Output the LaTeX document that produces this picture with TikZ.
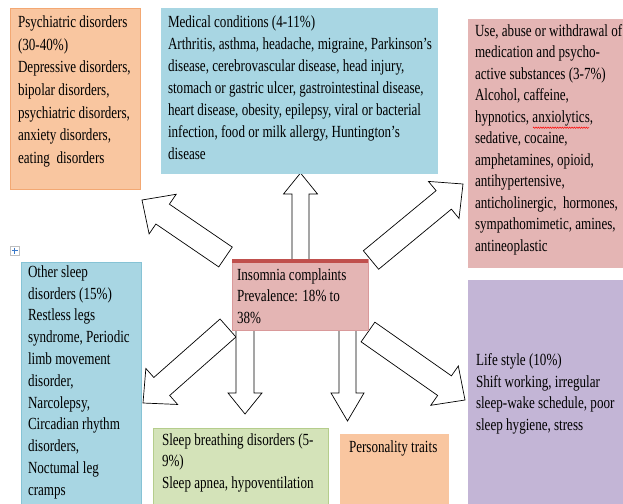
\documentclass[tikz,border=0pt]{standalone}
\usepackage{fontspec}
\setmainfont{Liberation Serif}[FakeStretch=0.77]
\usetikzlibrary{calc,decorations.pathmorphing}

\definecolor{psyfill}{HTML}{F9C6A0}
\definecolor{psyline}{HTML}{F3A873}
\definecolor{bluefill}{HTML}{A8D6E3}
\definecolor{blueline}{HTML}{86C3D5}
\definecolor{pinkfill}{HTML}{E4B5B4}
\definecolor{pinkline}{HTML}{D9999A}
\definecolor{stripred}{HTML}{C0504D}
\definecolor{purplefill}{HTML}{C3B5D6}
\definecolor{greenfill}{HTML}{D4E3B9}
\definecolor{greenline}{HTML}{B5CD8C}
\definecolor{handleblue}{HTML}{3A78C8}

% block arrow: tail, tip, shaft half width, head half width, head length
\newcommand\fatarrow[5]{%
  \coordinate (fa-base) at ($(#2)!#5!(#1)$);
  \draw[blockarrow]
    ($(#1)!#3!90:(#2)$) -- ($(fa-base)!#3!90:(#2)$) -- ($(fa-base)!#4!90:(#2)$)
    -- (#2) --
    ($(fa-base)!#4!-90:(#2)$) -- ($(fa-base)!#3!-90:(#2)$) -- ($(#1)!#3!-90:(#2)$) -- cycle;
}

\tikzset{
  box/.style={rectangle, inner sep=0pt, outer sep=0pt, anchor=north west, line width=0.6pt},
  boxtext/.style={inner sep=0pt, outer sep=0pt, anchor=north west, align=left,
                  font=\fontsize{17}{#1}\selectfont},
  boxtext/.default=21.7,
  blockarrow/.style={draw=black, fill=white, line width=0.7pt, line join=miter},
}

\begin{document}
\begin{tikzpicture}[x=1pt,y=-1pt]
\useasboundingbox (0,0) rectangle (623,503);
\fill[white] (0,0) rectangle (623,503);

% arrow ends around the central box
\coordinate (upT)  at (300.5,262);  \coordinate (upH)  at (300.5,173);
\coordinate (ulT)  at (225.5,257);  \coordinate (ulH)  at (142,200);
\coordinate (urT)  at (371,260);    \coordinate (urH)  at (463,184);
\coordinate (dlT)  at (228,328);    \coordinate (dlH)  at (143,403);
\coordinate (d1T)  at (245,327);    \coordinate (d1H)  at (245,414);
\coordinate (d2T)  at (347.5,327);  \coordinate (d2H)  at (347.5,421);
\coordinate (drT)  at (368,332);    \coordinate (drH)  at (465,400);

\fatarrow{upT}{upH}{8.5pt}{17pt}{21pt}
\fatarrow{ulT}{ulH}{12pt}{24pt}{25pt}
\fatarrow{urT}{urH}{12pt}{24pt}{25pt}
\fatarrow{dlT}{dlH}{12pt}{24pt}{25pt}
\fatarrow{d1T}{d1H}{9pt}{17pt}{21pt}
\fatarrow{d2T}{d2H}{8.5pt}{16.5pt}{28pt}
\fatarrow{drT}{drH}{12pt}{24pt}{25pt}

% boxes
\node[box, fill=psyfill, draw=psyline, minimum width=130pt, minimum height=181pt] (psy) at (10,8) {};
\node[box, fill=bluefill, draw=bluefill, minimum width=276pt, minimum height=165pt] (med) at (161,8) {};
\node[box, fill=pinkfill, draw=pinkfill, minimum width=156pt, minimum height=248pt] (subst) at (468,19) {};
\node[box, fill=bluefill, draw=blueline, minimum width=120pt, minimum height=243pt] (other) at (21,262) {};
\node[box, fill=pinkfill, draw=pinkline, minimum width=136pt, minimum height=71pt] (insom) at (232,259) {};
\draw[stripred, line width=3.5pt] ($(insom.north west)+(0,1.75)$) -- ($(insom.north east)+(0,1.75)$);
\node[box, fill=greenfill, draw=greenline, minimum width=175pt, minimum height=77pt] (breath) at (153,428) {};
\node[box, fill=psyfill, draw=psyfill, minimum width=108pt, minimum height=70pt] (pers) at (340,434) {};
\node[box, fill=purplefill, draw=purplefill, minimum width=156pt, minimum height=224pt] (life) at (468,280) {};

% move handle
\node[box, draw=black!25, fill=white, line width=0.4pt, minimum width=9pt, minimum height=9pt] (handle) at (10,246) {};
\draw[handleblue, line width=0.9pt] ($(handle.center)+(-3,0)$) -- ($(handle.center)+(3,0)$)
  ($(handle.center)+(0,-3)$) -- ($(handle.center)+(0,3)$);

% texts
\node[boxtext=22.55] (psyT) at (18,16.1) {Psychiatric disorders\\(30-40\%)\\Depressive disorders,\\bipolar disorders,\\psychiatric disorders,\\anxiety disorders,\\eating\ \ disorders};
\node[boxtext=21.9] (medT) at (168,16.1) {Medical conditions (4-11\%)\\Arthritis, asthma, headache, migraine, Parkinson’s\\disease, cerebrovascular disease, head injury,\\stomach or gastric ulcer, gastrointestinal disease,\\heart disease, obesity, epilepsy, viral or bacterial\\infection, food or milk allergy, Huntington’s\\disease};
\node[boxtext=21.5] (substT) at (475,24.1) {Use, abuse or withdrawal of\\medication and psycho-\\active substances (3-7\%)\\Alcohol, caffeine,\\hypnotics, anxiolytics,\\sedative, cocaine,\\amphetamines, opioid,\\antihypertensive,\\anticholinergic,\ \ hormones,\\sympathomimetic, amines,\\antineoplastic};
\draw[red, line width=0.5pt, decorate, decoration={zigzag, amplitude=0.7pt, segment length=2.4pt}]
  ($(substT.north west)+(58,103.6)$) -- ($(substT.north west)+(114,103.6)$);
\node[boxtext=21.8] (otherT) at (28,265.4) {Other sleep\\disorders (15\%)\\Restless legs\\syndrome, Periodic\\limb movement\\disorder,\\Narcolepsy,\\Circadian rhythm\\disorders,\\Noctumal leg\\cramps};
\node[boxtext=21.7] (insomT) at (237,268.4) {Insomnia complaints\\Prevalence: 18\% to\\38\%};
\node[boxtext=21.7] (breathT) at (162,433.4) {Sleep breathing disorders (5-\\9\%)\\Sleep apnea, hypoventilation};
\node[boxtext=21.7] (persT) at (349,440.4) {Personality traits};
\node[boxtext=21.7] (lifeT) at (476,353.4) {Life style (10\%)\\Shift working, irregular\\sleep-wake schedule, poor\\sleep hygiene, stress};
\end{tikzpicture}
\end{document}
